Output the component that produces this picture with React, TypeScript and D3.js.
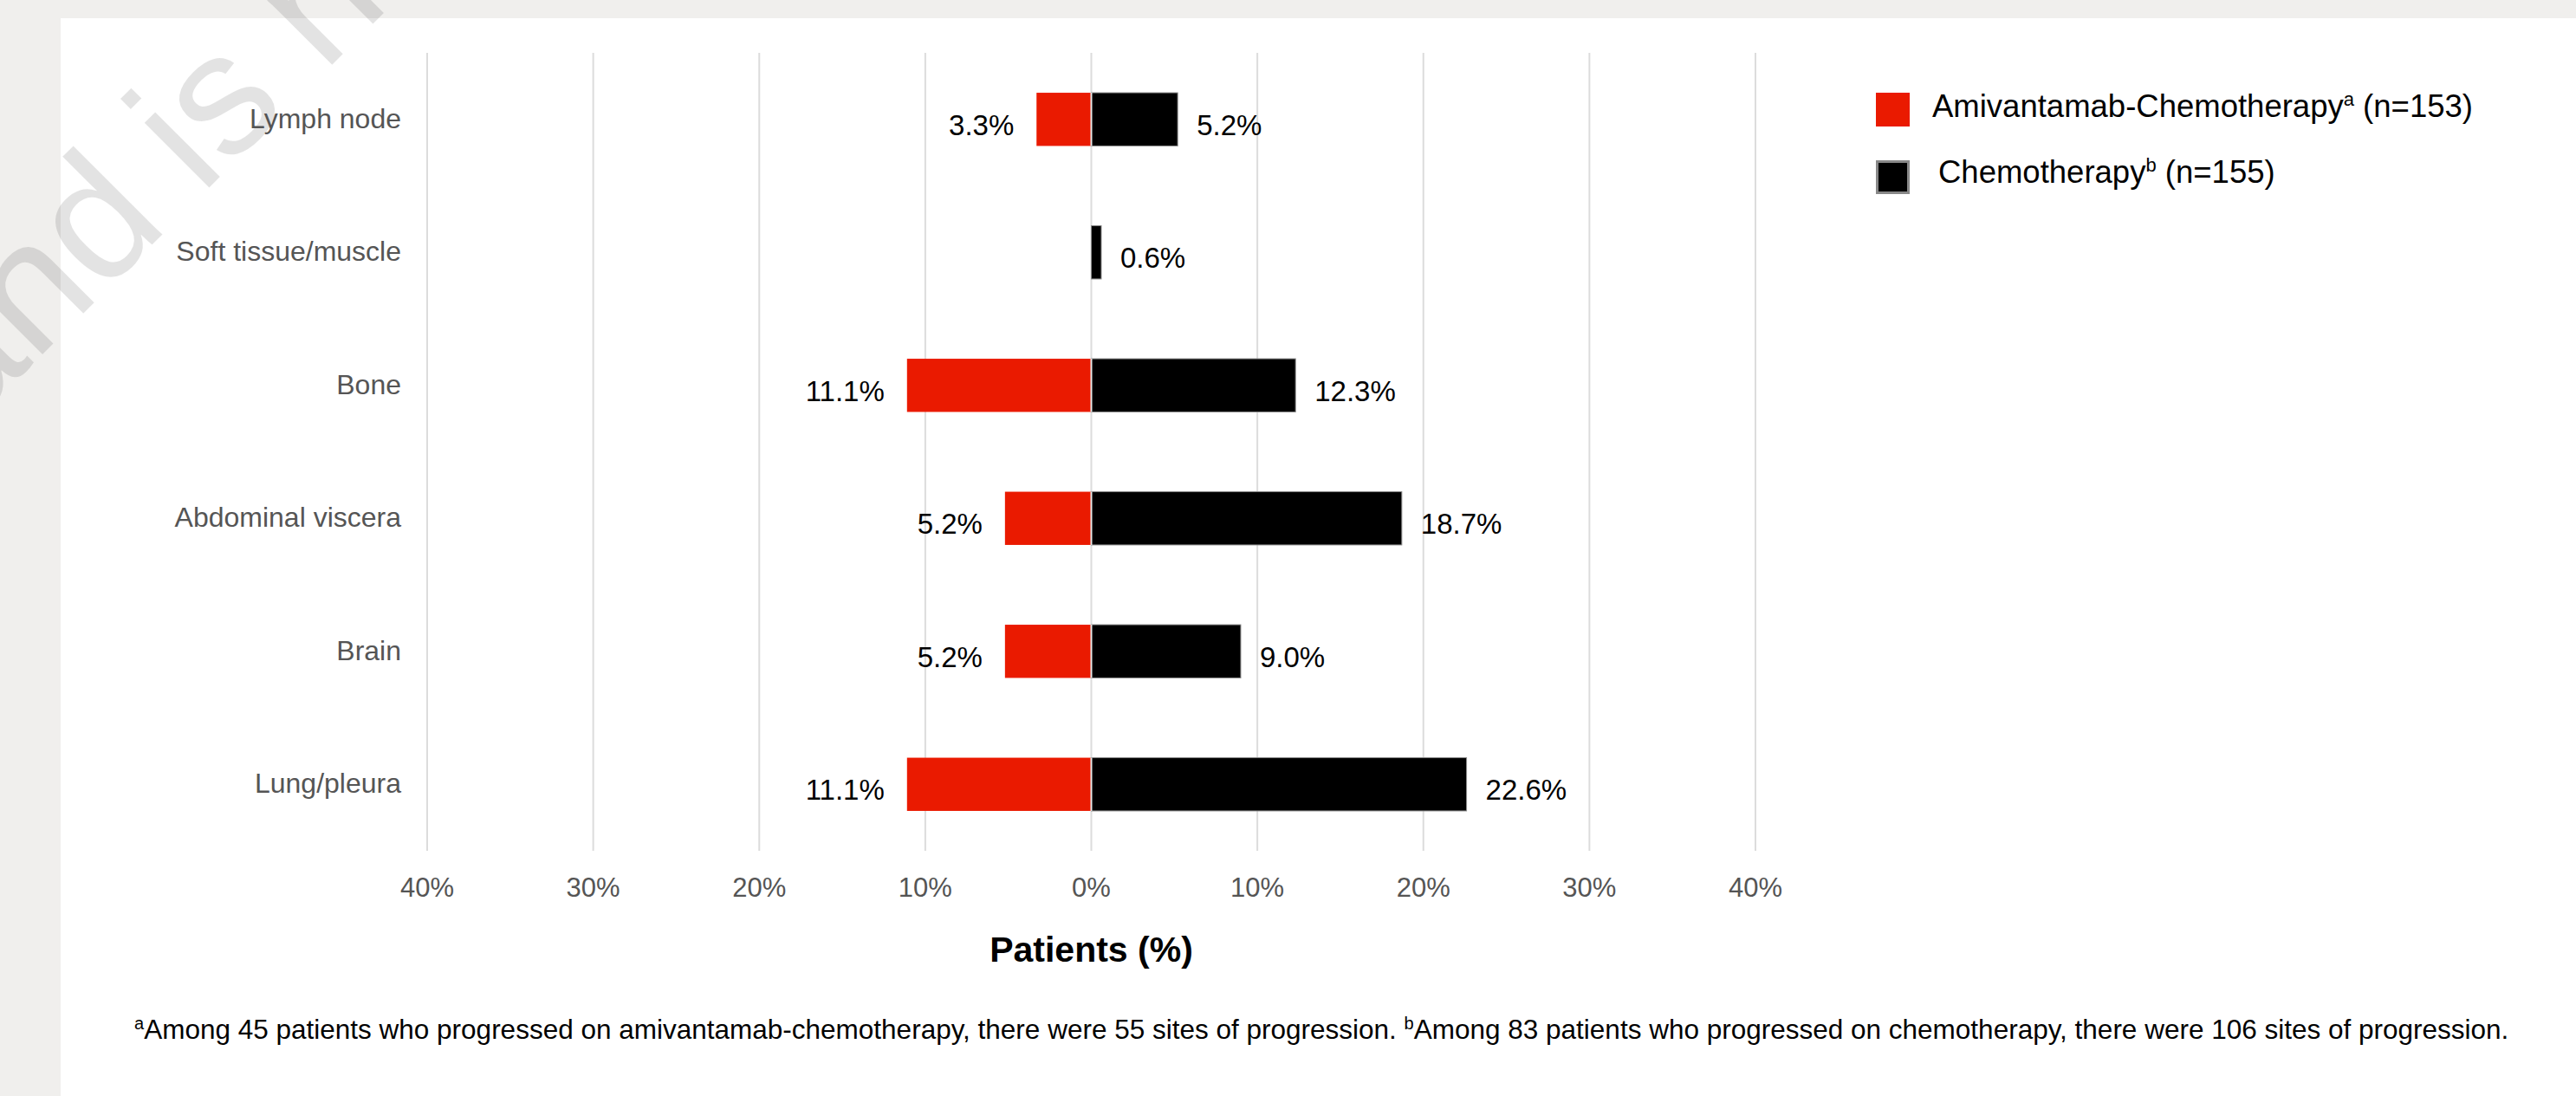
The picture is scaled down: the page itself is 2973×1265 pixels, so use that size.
import React from 'react';
import * as d3 from 'd3';

// progression sites, % of patients
const categories = ['Lymph node', 'Soft tissue/muscle', 'Bone', 'Abdominal viscera', 'Brain', 'Lung/pleura'];
const amivantamabChemo = [3.3, 0, 11.1, 5.2, 5.2, 11.1];
const chemo = [5.2, 0.6, 12.3, 18.7, 9.0, 22.6];
const tickValues = [-40, -30, -20, -10, 0, 10, 20, 30, 40];

const seriesNames = ['Amivantamab-Chemotherapy', 'Chemotherapy'];
const seriesN = [153, 155];
const seriesMarks = ['a', 'b'];

const W = 2973;
const H = 1265;
const FONT = '"Liberation Sans", Arial, Helvetica, sans-serif';
const RED = '#ea1a00';

const App: React.FC = () => {
  const x = d3.scaleLinear().domain([-40, 40]).range([493, 2026]);
  const y = d3.scaleBand<string>()
    .domain(categories)
    .range([61, 982])
    .paddingInner(0.6)
    .paddingOuter(0.3);
  const x0 = x(0);
  const bw = y.bandwidth();
  const fmt = (v: number) => `${v.toFixed(1)}%`;

  return (
    <div style={{ position: 'absolute', left: 0, top: 0 }}>
      <svg width={W} height={H} style={{ display: 'block', fontFamily: FONT }}>
        {/* page background + white card */}
        <rect x={0} y={0} width={W} height={H} fill="#f0efed" />
        <rect x={70} y={21} width={W - 70} height={H - 21} fill="#ffffff" />

        {/* watermark (runs off the top-left corner like the original) */}
        <g transform="translate(232,226) rotate(-45)" fill="#000" fillOpacity={0.11} fontSize={200}>
          <text x={-50} textAnchor="end">and</text>
          <text x={0}>is not</text>
        </g>

        {/* grid */}
        <g>
          {tickValues.map(t => (
            <line key={t} x1={x(t)} x2={x(t)} y1={61} y2={982} stroke="#dcdcdc" strokeWidth={2} />
          ))}
        </g>

        {/* category labels */}
        <g fontSize={32} fill="#555" textAnchor="end">
          {categories.map(c => (
            <text key={c} x={463} y={(y(c) ?? 0) + bw / 2 + 10}>{c}</text>
          ))}
        </g>

        {/* bars */}
        <g>
          {categories.map((c, i) => {
            const yc = y(c) ?? 0;
            const a = amivantamabChemo[i];
            const b = chemo[i];
            return (
              <g key={c}>
                {a > 0 && (
                  <rect x={x(-a)} y={yc} width={x0 - x(-a)} height={bw} fill={RED} />
                )}
                {b > 0 && (
                  <rect x={x0} y={yc} width={x(b) - x0} height={bw} fill="#000" stroke="#8a8a8a" strokeWidth={1} />
                )}
                {a > 0 && b > 0 && (
                  <line x1={x0} x2={x0} y1={yc} y2={yc + bw} stroke="#e8e8e8" strokeWidth={2} />
                )}
              </g>
            );
          })}
        </g>

        {/* value labels */}
        <g fontSize={33} fill="#000">
          {categories.map((c, i) => {
            const yc = (y(c) ?? 0) + bw / 2 + 18;
            const a = amivantamabChemo[i];
            const b = chemo[i];
            return (
              <g key={c}>
                {a > 0 && <text x={x(-a) - 26} y={yc} textAnchor="end">{fmt(a)}</text>}
                {b > 0 && <text x={x(b) + 22} y={yc}>{fmt(b)}</text>}
              </g>
            );
          })}
        </g>

        {/* x tick labels (absolute values) */}
        <g fontSize={31} fill="#555" textAnchor="middle">
          {tickValues.map(t => (
            <text key={t} x={x(t)} y={1035}>{`${Math.abs(t)}%`}</text>
          ))}
        </g>

        <text x={x0} y={1110} textAnchor="middle" fontSize={41} fontWeight="bold" fill="#000">
          Patients (%)
        </text>

        {/* legend */}
        <g fontSize={36.5} fill="#000">
          <rect x={2165} y={107} width={39} height={39} fill={RED} />
          <text x={2230} y={135}>
            {seriesNames[0]}
            <tspan dy={-13} fontSize={22}>{seriesMarks[0]}</tspan>
            <tspan dy={13}>{` (n=${seriesN[0]})`}</tspan>
          </text>
          <rect x={2166.5} y={186.5} width={36} height={36} fill="#000" stroke="#888" strokeWidth={3} />
          <text x={2237} y={211}>
            {seriesNames[1]}
            <tspan dy={-13} fontSize={22}>{seriesMarks[1]}</tspan>
            <tspan dy={13}>{` (n=${seriesN[1]})`}</tspan>
          </text>
        </g>

        {/* footnote */}
        <text x={155} y={1199} fontSize={31.5} fill="#000">
          <tspan dy={-11} fontSize={20}>a</tspan>
          <tspan dy={11}>Among 45 patients who progressed on amivantamab-chemotherapy, there were 55 sites of progression. </tspan>
          <tspan dy={-11} fontSize={20}>b</tspan>
          <tspan dy={11}>Among 83 patients who progressed on chemotherapy, there were 106 sites of progression.</tspan>
        </text>
      </svg>
    </div>
  );
};

export default App;
